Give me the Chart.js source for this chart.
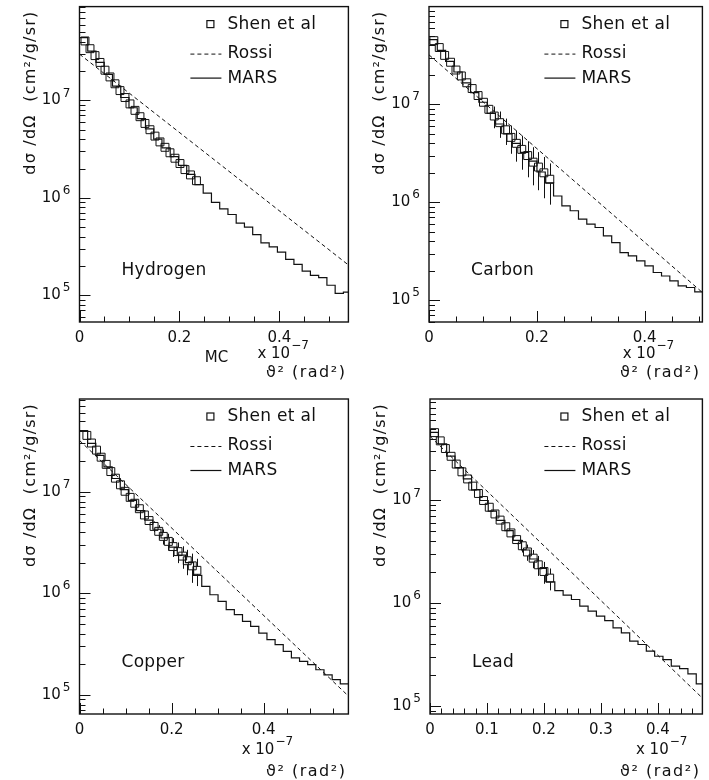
<!DOCTYPE html>
<html>
<head>
<meta charset="utf-8">
<script src="https://cdn.jsdelivr.net/npm/chart.js@4.4.1/dist/chart.umd.min.js"></script>
<style>
  body { margin: 0; background: #fff; width: 709px; height: 780px; position: relative; overflow: hidden; }
  canvas { position: absolute; }
</style>
</head>
<body>
<canvas id="c1" width="355" height="390" style="left:0;top:0"></canvas>
<canvas id="c2" width="354" height="390" style="left:355px;top:0"></canvas>
<canvas id="c3" width="355" height="390" style="left:0;top:390px"></canvas>
<canvas id="c4" width="354" height="390" style="left:355px;top:390px"></canvas>
<script>
// --- data (theta^2 in units of 1e-7 rad^2, dsigma/dOmega in cm^2/g/sr) ---
// Hydrogen
var shenHx = [0.011, 0.021, 0.031, 0.041, 0.051, 0.061, 0.071, 0.081, 0.091, 0.101, 0.111, 0.121,
              0.131, 0.141, 0.151, 0.161, 0.171, 0.181, 0.191, 0.201, 0.211, 0.222, 0.234];
var shenHy = [4.07e7, 3.39e7, 2.88e7, 2.45e7, 2.04e7, 1.74e7, 1.48e7, 1.26e7, 1.07e7, 9.2e6, 7.9e6, 6.8e6,
              5.8e6, 5.0e6, 4.3e6, 3.75e6, 3.3e6, 2.9e6, 2.55e6, 2.25e6, 1.95e6, 1.72e6, 1.5e6];
var shenHe = [0.04, 0.04, 0.04, 0.04, 0.04, 0.04, 0.04, 0.04, 0.04, 0.04, 0.05, 0.05,
              0.05, 0.05, 0.05, 0.05, 0.06, 0.06, 0.06, 0.06, 0.07, 0.07, 0.07];
var rossiHx = [0, 0.27, 0.538];
var rossiHy = [2.98e7, 2.45e6, 2.05e5];
var marsHbin = 0.0165;
var marsHy = [4.4e7, 3.2e7, 2.45e7, 1.85e7, 1.4e7, 1.07e7, 8.4e6, 6.5e6, 5.1e6, 4.0e6, 3.25e6, 2.65e6,
              2.15e6, 1.74e6, 1.37e6, 1.12e6, 9.0e5, 7.7e5, 6.75e5, 5.5e5, 5.0e5, 4.2e5, 3.46e5, 3.15e5,
              2.78e5, 2.34e5, 2.08e5, 1.77e5, 1.6e5, 1.52e5, 1.27e5, 1.05e5, 1.08e5];

// Carbon
var shenCx = [0.009, 0.019, 0.029, 0.040, 0.050, 0.060, 0.070, 0.080, 0.091, 0.101, 0.111,
              0.121, 0.131, 0.142, 0.152, 0.162, 0.172, 0.183, 0.193, 0.203, 0.213, 0.224];
var shenCy = [4.47e7, 3.8e7, 3.16e7, 2.69e7, 2.24e7, 1.95e7, 1.66e7, 1.45e7, 1.23e7, 1.05e7, 8.9e6,
              7.6e6, 6.5e6, 5.5e6, 4.6e6, 4.0e6, 3.47e6, 3.0e6, 2.57e6, 2.29e6, 2.0e6, 1.72e6];
var shenCe = [0.04, 0.04, 0.04, 0.05, 0.05, 0.05, 0.05, 0.06, 0.06, 0.07, 0.1,
              0.25, 0.3, 0.3, 0.32, 0.35, 0.38, 0.4, 0.42, 0.42, 0.45, 0.45];
var rossiCx = [0, 0.25, 0.507];
var rossiCy = [3.2e7, 2.04e6, 1.2e5];
var marsCbin = 0.0154;
var marsCy = [4.57e7, 3.55e7, 2.75e7, 2.14e7, 1.66e7, 1.32e7, 1.05e7, 8.1e6, 6.3e6, 5.0e6, 4.0e6, 3.24e6,
              2.63e6, 2.04e6, 1.58e6, 1.16e6, 9.2e5, 8.2e5, 6.73e5, 5.98e5, 5.53e5, 4.55e5, 3.88e5, 3.07e5,
              2.84e5, 2.52e5, 2.24e5, 1.92e5, 1.77e5, 1.58e5, 1.4e5, 1.35e5, 1.22e5];

// Copper
var shenUx = [0.016, 0.026, 0.037, 0.047, 0.058, 0.068, 0.078, 0.089, 0.099, 0.110, 0.120, 0.130,
              0.141, 0.151, 0.162, 0.172, 0.182, 0.193, 0.203, 0.214, 0.224, 0.234, 0.245, 0.255];
var shenUy = [3.59e7, 3.02e7, 2.57e7, 2.19e7, 1.86e7, 1.58e7, 1.36e7, 1.17e7, 1.01e7, 8.8e6, 7.7e6, 6.8e6,
              5.9e6, 5.2e6, 4.55e6, 4.07e6, 3.63e6, 3.24e6, 2.88e6, 2.57e6, 2.32e6, 2.09e6, 1.86e6, 1.68e6];
var shenUe = [0.04, 0.04, 0.04, 0.04, 0.04, 0.04, 0.05, 0.05, 0.05, 0.05, 0.05, 0.06,
              0.08, 0.1, 0.12, 0.15, 0.17, 0.19, 0.21, 0.23, 0.25, 0.28, 0.32, 0.3];
var rossiUx = [0, 0.29, 0.584];
var rossiUy = [3.2e7, 1.8e6, 9.7e4];
var marsUbin = 0.0177;
var marsUy = [4.0e7, 3.0e7, 2.28e7, 1.76e7, 1.35e7, 1.05e7, 8.2e6, 6.5e6, 5.25e6, 4.27e6, 3.5e6, 2.85e6,
              2.37e6, 2.0e6, 1.5e6, 1.17e6, 9.66e5, 8.3e5, 6.88e5, 6.14e5, 5.28e5, 4.71e5, 4.05e5, 3.48e5,
              3.11e5, 2.67e5, 2.3e5, 2.13e5, 1.98e5, 1.76e5, 1.57e5, 1.41e5, 1.28e5];

// Lead
var shenLx = [0.008, 0.018, 0.027, 0.037, 0.046, 0.056, 0.066, 0.075, 0.085, 0.094, 0.104,
              0.114, 0.123, 0.133, 0.142, 0.152, 0.162, 0.171, 0.181, 0.190, 0.200, 0.210];
var shenLy = [4.57e7, 3.8e7, 3.2e7, 2.69e7, 2.26e7, 1.9e7, 1.62e7, 1.38e7, 1.17e7, 1.0e7, 8.6e6,
              7.4e6, 6.45e6, 5.56e6, 4.84e6, 4.17e6, 3.63e6, 3.16e6, 2.75e6, 2.37e6, 2.04e6, 1.76e6];
var shenLe = [0.04, 0.04, 0.04, 0.04, 0.04, 0.04, 0.04, 0.05, 0.05, 0.05, 0.05,
              0.05, 0.06, 0.06, 0.07, 0.1, 0.14, 0.18, 0.2, 0.22, 0.24, 0.24];
var rossiLx = [0, 0.24, 0.478];
var rossiLy = [4.2e7, 2.22e6, 1.2e5];
var marsLbin = 0.0146;
var marsLy = [4.6e7, 3.55e7, 2.7e7, 2.09e7, 1.62e7, 1.27e7, 1.0e7, 7.9e6, 6.4e6, 5.1e6, 4.1e6, 3.3e6,
              2.7e6, 2.19e6, 1.62e6, 1.33e6, 1.2e6, 1.09e6, 9.4e5, 8.4e5, 7.5e5, 6.8e5, 5.78e5, 5.17e5,
              4.29e5, 3.98e5, 3.43e5, 3.06e5, 2.84e5, 2.45e5, 2.32e5, 2.06e5, 1.65e5];

var legendLabels = ['Shen et al', 'Rossi', 'MARS'];
var yTitle = 'dσ /dΩ  (cm²/g/sr)';
var xTitle = 'ϑ² (rad²)';

var INK = '#111';
var FONT = '"DejaVu Sans", "Liberation Sans", sans-serif';

function pts(xs, ys) {
  return xs.map(function (x, i) { return { x: x, y: ys[i] }; });
}
function hist(bin, ys) {
  var out = ys.map(function (y, i) { return { x: i * bin, y: y }; });
  out.push({ x: ys.length * bin, y: ys[ys.length - 1] });
  return out;
}

var panelPlugin = {
  id: 'panel',
  afterDatasetsDraw: function (chart, args, o) {
    // error bars on the Shen points, outside the open squares
    var ctx = chart.ctx, a = chart.chartArea, ys = chart.scales.y, xs = chart.scales.x;
    var d = chart.data.datasets[0].data;
    ctx.save();
    ctx.beginPath();
    ctx.rect(a.left, a.top, a.right - a.left, a.bottom - a.top);
    ctx.clip();
    ctx.strokeStyle = INK;
    ctx.lineWidth = 1;
    ctx.beginPath();
    d.forEach(function (p, i) {
      var e = o.err[i] * p.y;
      var px = Math.round(xs.getPixelForValue(p.x)) + 0.5;
      var py = ys.getPixelForValue(p.y);
      var top = ys.getPixelForValue(p.y + e), bot = ys.getPixelForValue(p.y - e);
      if (py - top > 4) { ctx.moveTo(px, top); ctx.lineTo(px, py - 4); }
      if (bot - py > 4) { ctx.moveTo(px, py + 4); ctx.lineTo(px, bot); }
    });
    ctx.stroke();
    ctx.restore();
  },
  afterDraw: function (chart, args, o) {
    var ctx = chart.ctx, a = chart.chartArea, xs = chart.scales.x, ys = chart.scales.y;
    ctx.save();
    ctx.fillStyle = INK;
    ctx.strokeStyle = INK;

    // frame
    ctx.lineWidth = 1.4;
    ctx.strokeRect(a.left, a.top, a.right - a.left, a.bottom - a.top);

    // x ticks (inward) and labels
    ctx.lineWidth = 1;
    ctx.beginPath();
    var n = Math.floor(o.xmax / o.xMinor + 1e-6);
    var lastMajor = 0;
    for (var i = 0; i <= n; i++) {
      var v = i * o.xMinor;
      var r = v / o.xMajor;
      var major = Math.abs(r - Math.round(r)) < 1e-6;
      var px = Math.round(xs.getPixelForValue(v)) + 0.5;
      ctx.moveTo(px, a.bottom);
      ctx.lineTo(px, a.bottom - (major ? 11 : 5.5));
      if (major) lastMajor = v;
    }
    ctx.stroke();
    ctx.font = '15px ' + FONT;
    ctx.textAlign = 'center';
    ctx.textBaseline = 'middle';
    o.xLabels.forEach(function (lab) {
      ctx.fillText(lab, xs.getPixelForValue(parseFloat(lab)), a.bottom + 16);
    });

    // y ticks (inward), decades labelled as 10^n
    ctx.beginPath();
    var e0 = Math.floor(Math.log10(ys.min)), e1 = Math.ceil(Math.log10(ys.max));
    for (var e = e0; e <= e1; e++) {
      for (var m = 1; m <= 9; m++) {
        var val = m * Math.pow(10, e);
        if (val < ys.min || val > ys.max) continue;
        var py = Math.round(ys.getPixelForValue(val)) + 0.5;
        ctx.moveTo(a.left, py);
        ctx.lineTo(a.left + (m === 1 ? 11 : 6), py);
      }
    }
    ctx.stroke();
    for (var e2 = e0; e2 <= e1; e2++) {
      var dv = Math.pow(10, e2);
      if (dv < ys.min || dv > ys.max) continue;
      var y0 = ys.getPixelForValue(dv);
      ctx.font = '12px ' + FONT;
      var ew = ctx.measureText(String(e2)).width;
      ctx.textAlign = 'right';
      ctx.fillText(String(e2), a.left - 9, y0 - 7);
      ctx.font = '15px ' + FONT;
      ctx.fillText('10', a.left - 11 - ew, y0);
    }

    // x-axis exponent and title
    ctx.textAlign = 'left';
    ctx.font = '15px ' + FONT;
    var sx = xs.getPixelForValue(lastMajor) - 22;
    ctx.fillText('x 10', sx, a.bottom + o.expDy);
    var w10 = ctx.measureText('x 10').width;
    ctx.font = '12px ' + FONT;
    ctx.fillText('−7', sx + w10 + 1, a.bottom + o.expDy - 8);
    ctx.font = '16px ' + FONT;
    ctx.letterSpacing = '1.5px';
    ctx.textAlign = 'right';
    ctx.fillText(xTitle, a.right - 2, a.bottom + o.radDy);
    ctx.letterSpacing = '0px';
    if (o.mc) {
      ctx.font = '15px ' + FONT;
      ctx.textAlign = 'center';
      ctx.fillText('MC', a.left + 137, a.bottom + 36);
    }

    // y-axis title
    ctx.save();
    ctx.translate(a.left - 49, a.top + 4);
    ctx.rotate(-Math.PI / 2);
    ctx.textAlign = 'right';
    ctx.font = '16px ' + FONT;
    ctx.letterSpacing = '1.2px';
    ctx.fillText(yTitle, 0, 0);
    ctx.restore();

    // legend
    var lx = a.right - 121;
    ctx.font = '17px ' + FONT;
    ctx.letterSpacing = '0.3px';
    ctx.textAlign = 'left';
    ctx.lineWidth = 1.2;
    ctx.strokeRect(a.right - 141.5, a.top + 14, 7, 7);
    ctx.fillText(legendLabels[0], lx, a.top + 17.5);
    ctx.lineWidth = 1;
    ctx.setLineDash([4, 3]);
    ctx.beginPath();
    ctx.moveTo(a.right - 158, a.top + 47.5);
    ctx.lineTo(a.right - 127, a.top + 47.5);
    ctx.stroke();
    ctx.setLineDash([]);
    ctx.fillText(legendLabels[1], lx, a.top + 47);
    ctx.lineWidth = 1.2;
    ctx.beginPath();
    ctx.moveTo(a.right - 158, a.top + 71.5);
    ctx.lineTo(a.right - 127, a.top + 71.5);
    ctx.stroke();
    ctx.fillText(legendLabels[2], lx, a.top + 71.5);

    // target name
    ctx.font = '17px ' + FONT;
    ctx.fillText(o.name, a.left + 42, a.top + 264);
    ctx.restore();
  }
};

function makePanel(id, cfg) {
  new Chart(document.getElementById(id), {
    type: 'line',
    data: {
      datasets: [
        {
          label: legendLabels[0], data: pts(cfg.sx, cfg.sy), showLine: false,
          pointStyle: 'rect', pointRadius: 5.6, pointBorderWidth: 1,
          pointBorderColor: INK, pointBackgroundColor: 'rgba(0,0,0,0)'
        },
        {
          label: legendLabels[1], data: pts(cfg.rx, cfg.ry), borderColor: INK,
          borderWidth: 1, borderDash: [4, 3], pointRadius: 0, tension: 0
        },
        {
          label: legendLabels[2], data: hist(cfg.bin, cfg.my), borderColor: INK,
          borderWidth: 1.2, stepped: true, pointRadius: 0
        }
      ]
    },
    options: {
      responsive: false,
      animation: false,
      devicePixelRatio: 1,
      events: [],
      layout: { padding: cfg.pad },
      scales: {
        x: { type: 'linear', min: 0, max: cfg.xmax, display: false },
        y: { type: 'logarithmic', min: cfg.ymin, max: cfg.ymax, display: false }
      },
      plugins: {
        legend: { display: false },
        tooltip: { enabled: false },
        panel: {
          err: cfg.se, xmax: cfg.xmax, xMinor: cfg.xMinor, xMajor: cfg.xMajor,
          xLabels: cfg.xLabels, name: cfg.name, mc: cfg.mc, expDy: cfg.expDy, radDy: cfg.radDy
        }
      }
    },
    plugins: [panelPlugin]
  });
}

makePanel('c1', {
  sx: shenHx, sy: shenHy, se: shenHe, rx: rossiHx, ry: rossiHy, bin: marsHbin, my: marsHy,
  xmax: 0.538, ymin: 5.33e4, ymax: 9.16e7, xMinor: 0.05, xMajor: 0.2, xLabels: ['0', '0.2', '0.4'],
  name: 'Hydrogen', mc: true, expDy: 32, radDy: 51,
  pad: { left: 79.5, top: 6, right: 2, bottom: 68 }
});
makePanel('c2', {
  sx: shenCx, sy: shenCy, se: shenCe, rx: rossiCx, ry: rossiCy, bin: marsCbin, my: marsCy,
  xmax: 0.507, ymin: 6.0e4, ymax: 9.95e7, xMinor: 0.05, xMajor: 0.2, xLabels: ['0', '0.2', '0.4'],
  name: 'Carbon', mc: false, expDy: 32, radDy: 51,
  pad: { left: 74, top: 6, right: 5.5, bottom: 68 }
});
makePanel('c3', {
  sx: shenUx, sy: shenUy, se: shenUe, rx: rossiUx, ry: rossiUy, bin: marsUbin, my: marsUy,
  xmax: 0.584, ymin: 6.45e4, ymax: 8.2e7, xMinor: 0.05, xMajor: 0.2, xLabels: ['0', '0.2', '0.4'],
  name: 'Copper', mc: false, expDy: 36, radDy: 58,
  pad: { left: 79.5, top: 9, right: 2, bottom: 66 }
});
makePanel('c4', {
  sx: shenLx, sy: shenLy, se: shenLe, rx: rossiLx, ry: rossiLy, bin: marsLbin, my: marsLy,
  xmax: 0.478, ymin: 8.4e4, ymax: 9.7e7, xMinor: 0.02, xMajor: 0.1, xLabels: ['0', '0.1', '0.2', '0.3', '0.4'],
  name: 'Lead', mc: false, expDy: 36, radDy: 58,
  pad: { left: 75, top: 9, right: 6, bottom: 66 }
});
</script>
</body>
</html>
